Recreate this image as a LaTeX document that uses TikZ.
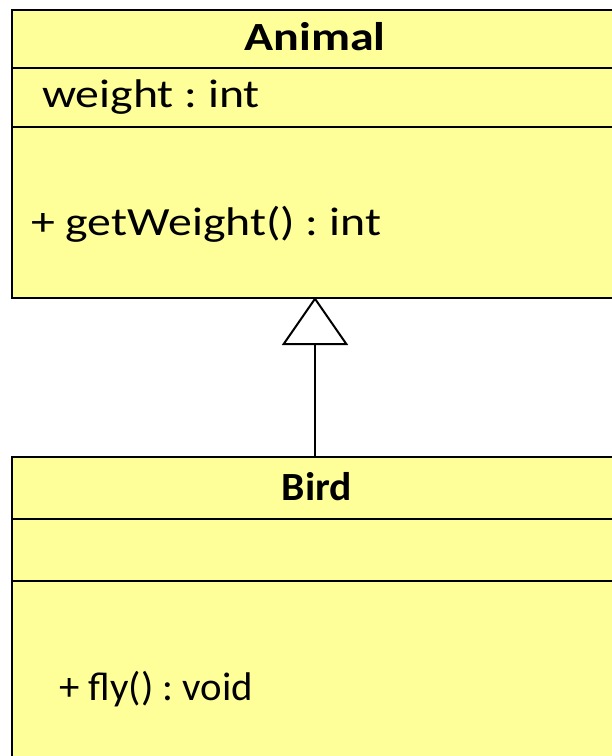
\documentclass[tikz,border=0pt]{standalone}
\usepackage{fontspec}
\setmainfont{Carlito}
\usetikzlibrary{arrows.meta}
\definecolor{classfill}{HTML}{FFFF99}
\frenchspacing
\tikzset{
  classbox/.style={draw=black, line width=2pt, fill=classfill, rectangle, inner sep=0pt, anchor=north west},
  sep/.style={draw=black, line width=2pt},
  txt/.style={inner sep=0pt, font=\fontsize{40}{48}\selectfont\frenchspacing},
  title/.style={txt, font=\fontsize{40}{48}\selectfont\bfseries},
  inherit/.style={line width=2pt, -{Triangle[open, fill=white, length=48pt, width=66pt]}}
}
\newcommand{\wider}[1]{\scalebox{1.195}[1]{#1}}
\begin{document}
\begin{tikzpicture}[x=1pt, y=-1pt]
\useasboundingbox (0,0) rectangle (612,756);
% Animal
\node[classbox, minimum width=640pt, minimum height=288pt] (animal) at (11,9) {};
\draw[sep] (11,68) -- (651,68);
\draw[sep] (11,127) -- (651,127);
\node[title, anchor=base] (animaltitle) at (315,50) {\scalebox{1.2}[1]{Animal}};
\node[txt, anchor=base west] (attr) at (42,107) {\wider{weight : int}};
\node[txt, anchor=base west] (op) at (31,235) {\wider{+ getWeight() : int}};
% Bird
\node[classbox, minimum width=640pt, minimum height=340pt] (bird) at (11,456) {};
\draw[sep] (11,519) -- (651,519);
\draw[sep] (11,581) -- (651,581);
\node[title, anchor=base] (birdtitle) at (317,500) {\scalebox{1.04}[1]{Bird}};
\node[txt, anchor=base west] (birdop) at (59,700) {\scalebox{1.02}[1]{+ fly() : void}};
% inheritance
\coordinate (birdtop) at (315,456);
\coordinate (animalbottom) at (315,297);
\draw[inherit] (birdtop) -- (animalbottom);
\end{tikzpicture}
\end{document}
